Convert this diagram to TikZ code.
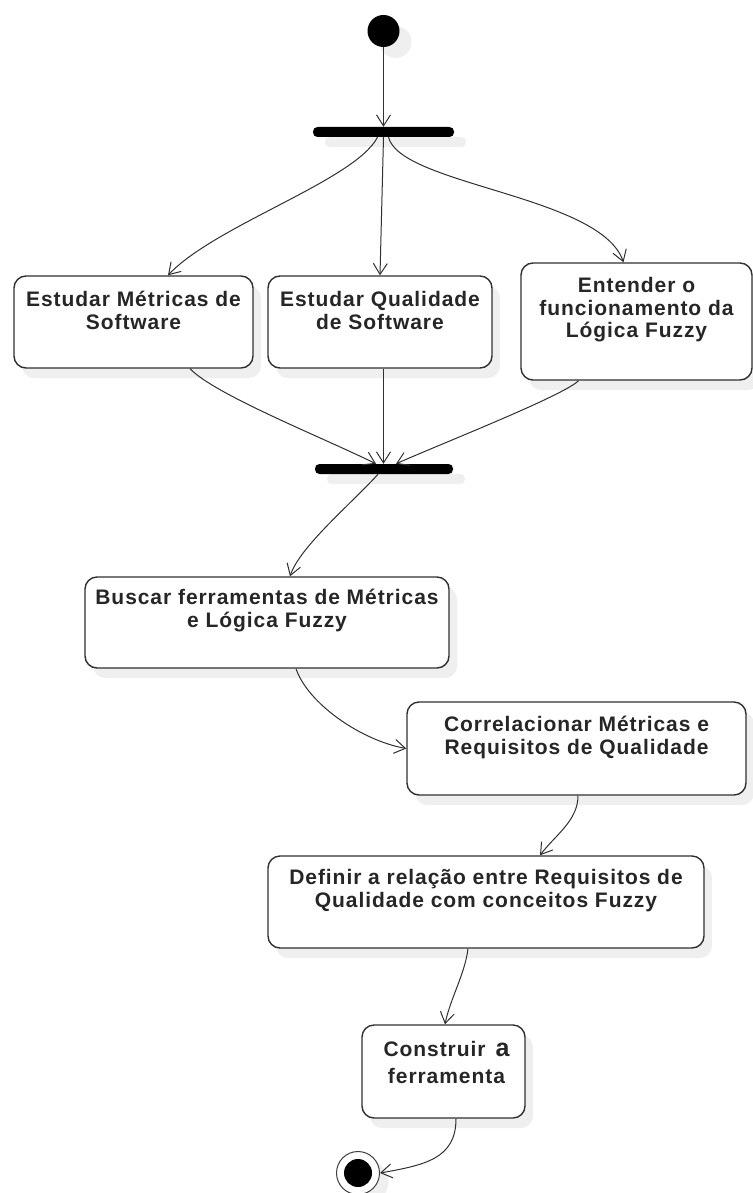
\documentclass[tikz,border=0pt]{standalone}
\usepackage{fontspec}
\setmainfont{Liberation Sans}[LetterSpace=4.5]
\usetikzlibrary{arrows.meta,shadows}
\definecolor{shadec}{HTML}{EFEFEF}
\definecolor{txtc}{HTML}{262626}
\definecolor{linec}{HTML}{303030}
\tikzset{
  actbox/.style={draw=linec, line width=1.4pt, rounded corners=12pt, fill=white,
    inner sep=0pt, drop shadow={shadow xshift=8pt, shadow yshift=-10pt, fill=shadec, opacity=1}},
  lbl/.style={anchor=north, align=center, inner sep=0pt, text=txtc,
    font=\bfseries\fontsize{21}{22.5}\selectfont},
  forkbar/.style={fill=black, rounded corners=4.5pt, inner sep=0pt,
    minimum height=10pt, drop shadow={shadow xshift=12pt, shadow yshift=-10pt, fill=shadec, opacity=1}},
  flow/.style={draw=linec, line width=1pt,
    -{Straight Barb[length=11pt, width=14pt, line width=1pt]}},
}
\begin{document}
\begin{tikzpicture}[x=1pt, y=-1pt]
\useasboundingbox (0,0) rectangle (752,1193);

% initial and final states
\node[circle, fill=black, minimum size=32pt, inner sep=0pt,
  drop shadow={shadow xshift=12pt, shadow yshift=-11pt, fill=shadec, opacity=1}] (start) at (383.5,31) {};
\node[circle, draw=black!75, line width=1pt, fill=white, minimum size=43pt, inner sep=0pt,
  drop shadow={shadow xshift=9pt, shadow yshift=-9pt, fill=shadec, opacity=1}] (endn) at (358,1173) {};
\node[circle, fill=black, minimum size=28pt, inner sep=0pt] (endc) at (endn.center) {};

% fork and join bars
\node[forkbar, minimum width=141pt] (bar1) at (383.5,132) {};
\node[forkbar, minimum width=138pt] (bar2) at (384,469) {};

% activities
\node[actbox, minimum width=239pt, minimum height=92pt] (b1) at (133.5,322) {};
\node[lbl] (t1) at ([yshift=-14pt]b1.north) {\rule{0pt}{17pt}Estudar Métricas de\\Software};

\node[actbox, minimum width=224pt, minimum height=92pt] (b2) at (380,322) {};
\node[lbl] (t2) at ([yshift=-14pt]b2.north) {\rule{0pt}{17pt}Estudar Qualidade\\de Software};

\node[actbox, minimum width=231pt, minimum height=117pt] (b3) at (636.5,321.5) {};
\node[lbl] (t3) at ([yshift=-13pt]b3.north) {\rule{0pt}{17pt}Entender o\\funcionamento da\\Lógica Fuzzy};

\node[actbox, minimum width=364pt, minimum height=91pt] (b4) at (267,622.5) {};
\node[lbl] (t4) at ([yshift=-11pt]b4.north) {\rule{0pt}{17pt}Buscar ferramentas de Métricas\\e Lógica Fuzzy};

\node[actbox, minimum width=339pt, minimum height=93pt] (b5) at (576.5,748.5) {};
\node[lbl] (t5) at ([yshift=-13pt]b5.north) {\rule{0pt}{17pt}Correlacionar Métricas e\\Requisitos de Qualidade};

\node[actbox, minimum width=436pt, minimum height=92pt] (b6) at (486,902) {};
\node[lbl] (t6) at ([yshift=-12pt]b6.north) {\rule{0pt}{17pt}Definir a relação entre Requisitos de\\Qualidade com conceitos Fuzzy};

\node[actbox, minimum width=163pt, minimum height=93pt] (b7) at (443.5,1071.5) {};
\node[lbl] (t7) at ([xshift=3pt, yshift=-15pt]b7.north)
  {\rule{0pt}{17pt}Construir\hspace{10pt}{\fontsize{25}{25}\selectfont a}\\[4pt]ferramenta};

% control flows
\draw[flow] (start.south) -- (bar1.north);
\draw[flow] ([xshift=-6pt]bar1.south) .. controls +(-22,43) and +(47,-50) .. ([xshift=34.5pt]b1.north);
\draw[flow] (bar1.south) -- (b2.north);
\draw[flow] ([xshift=5pt]bar1.south) .. controls +(12,48) and +(-23,-67) .. ([xshift=-13pt]b3.north);

\draw[flow] ([xshift=56.5pt]b1.south) .. controls +(25,26) and +(-55,-27) .. ([xshift=-8pt]bar2.north);
\draw[flow] ([xshift=3.5pt]b2.south) -- ([xshift=-0.5pt]bar2.north);
\draw[flow] ([xshift=-58pt]b3.south) .. controls +(-15,15) and +(45,-20) .. ([xshift=12pt]bar2.north);

\draw[flow] ([xshift=-6pt]bar2.south) .. controls +(-25,28) and +(10,-30) .. ([xshift=23pt]b4.north);
\draw[flow] ([xshift=29pt]b4.south) .. controls +(12,35) and +(-45,-8) .. (b5.west);
\draw[flow] ([xshift=1.5pt]b5.south) .. controls +(0,25) and +(15,-20) .. ([xshift=54pt]b6.north);
\draw[flow] ([xshift=-18pt]b6.south) .. controls +(-3,25) and +(5,-25) .. ([xshift=1.5pt]b7.north);
\draw[flow] ([xshift=12.5pt]b7.south) .. controls +(0,40) and +(45,-8) .. (endn.east);
\end{tikzpicture}
\end{document}
